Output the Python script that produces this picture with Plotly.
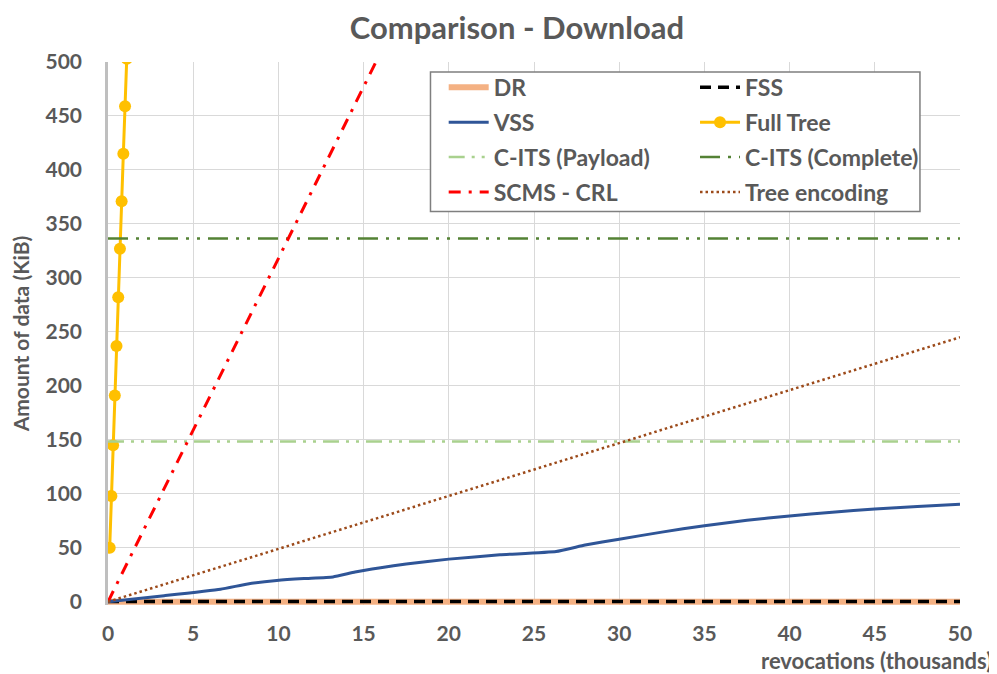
import plotly.graph_objects as go

# ---- data ----
x_span = [0, 50]
dr_y = [0, 0]
fss_y = [0.3, 0.3]

vss_x = [0, 3.3, 6.6, 8.2, 9.9, 11.5, 13.2, 14.5, 16, 17.5, 20, 23, 26.3, 28, 30, 32.5, 35, 37.5, 40, 42.5, 45, 47.5, 50]
vss_y = [0, 5.6, 11.6, 16.5, 19.7, 21.5, 23, 27.5, 31.5, 35, 39.5, 43.5, 46.5, 52.5, 58, 64.5, 70.5, 75.5, 79.5, 83, 86, 88.2, 90.3]

full_x = [0.1, 0.2, 0.3, 0.4, 0.5, 0.6, 0.7, 0.8, 0.9, 1.0, 1.1]
full_y = [50, 98, 145, 191, 237, 282, 327, 371, 415, 459, 503]

cits_payload_y = [148.5, 148.5]
cits_complete_y = [336.5, 336.5]

scms_x = [0, 5, 10, 15, 20]
scms_y = [0, 159, 318, 477, 636]

tree_x = [0, 5, 10, 15, 20, 25, 30, 35, 40, 45, 50]
tree_y = [0, 24.5, 49, 73.5, 98, 122.5, 147, 171.5, 196, 220.5, 245]

x_ticks = [0, 5, 10, 15, 20, 25, 30, 35, 40, 45, 50]
y_ticks = [0, 50, 100, 150, 200, 250, 300, 350, 400, 450, 500]

FONT = "Lato"
GRAY = "#595959"


def lname(s):
    return f"<b>{s}</b>"


fig = go.Figure()
fig.add_trace(go.Scatter(x=x_span, y=dr_y, mode="lines", name=lname("DR"),
                         legend="legend", legendgroup="g1",
                         line=dict(color="#F4B183", width=6)))
fig.add_trace(go.Scatter(x=x_span, y=fss_y, mode="lines", name=lname("FSS"),
                         legend="legend2", legendgroup="g2",
                         line=dict(color="#000000", width=3.5, dash="11px,7px")))
fig.add_trace(go.Scatter(x=vss_x, y=vss_y, mode="lines", name=lname("VSS"),
                         legend="legend", legendgroup="g3",
                         line=dict(color="#2F5597", width=3, shape="spline", smoothing=0.4)))
fig.add_trace(go.Scatter(x=full_x, y=full_y, mode="lines+markers", name=lname("Full Tree"),
                         legend="legend2", legendgroup="g4",
                         line=dict(color="#FFC000", width=3),
                         marker=dict(color="#FFC000", size=12)))
fig.add_trace(go.Scatter(x=x_span, y=cits_payload_y, mode="lines", name=lname("C-ITS (Payload)"),
                         legend="legend", legendgroup="g5",
                         line=dict(color="#A9D18E", width=2.5, dash="16px,7px,3px,7px,3px,7px")))
fig.add_trace(go.Scatter(x=x_span, y=cits_complete_y, mode="lines", name=lname("C-ITS (Complete)"),
                         legend="legend2", legendgroup="g6",
                         line=dict(color="#548235", width=2.5, dash="20px,8px,3px,8px,3px,8px")))
fig.add_trace(go.Scatter(x=scms_x, y=scms_y, mode="lines", name=lname("SCMS - CRL"),
                         legend="legend", legendgroup="g7",
                         line=dict(color="#FF0000", width=3, dash="12px,8px,3px,8px")))
fig.add_trace(go.Scatter(x=tree_x, y=tree_y, mode="lines", name=lname("Tree encoding"),
                         legend="legend2", legendgroup="g8",
                         line=dict(color="#9C4A1A", width=2.5, dash="2.5px,3px")))

legend_common = dict(orientation="v", yanchor="top", xanchor="left",
                     bgcolor="rgba(0,0,0,0)", borderwidth=0,
                     font=dict(family=FONT, size=23, color=GRAY),
                     itemwidth=40, traceorder="grouped", tracegroupgap=2)

fig.update_layout(
    width=989, height=666,
    margin=dict(l=96, r=37, t=54, b=69),
    paper_bgcolor="white", plot_bgcolor="white",
    font=dict(family=FONT, color=GRAY, size=18),
    title=dict(text="<b>Comparison - Download</b>", x=0.48, xref="paper", xanchor="center",
               y=0.969, yref="container", yanchor="middle",
               font=dict(family=FONT, size=31, color=GRAY)),
    legend=dict(x=0.394, y=0.993, **legend_common),
    legend2=dict(x=0.689, y=0.993, **legend_common),
    showlegend=True,
    shapes=[dict(type="rect", xref="paper", yref="paper", x0=0.3785, x1=0.953,
                 y0=0.7245, y1=0.9815, line=dict(color="#7F7F7F", width=1.5),
                 fillcolor="white", layer="above")],
)

fig.update_xaxes(range=[0, 50], tickvals=x_ticks, ticktext=[f"<b>{v}</b>" for v in x_ticks],
                 showgrid=True, gridcolor="#D9D9D9", gridwidth=1.2,
                 showline=False, zeroline=False, ticks="", ticklabelstandoff=14,
                 tickfont=dict(family=FONT, size=21, color=GRAY))
fig.update_yaxes(range=[-3, 500], tickvals=y_ticks, ticktext=[f"<b>{v}</b>" for v in y_ticks],
                 showgrid=True, gridcolor="#D9D9D9", gridwidth=1.2,
                 showline=True, linecolor="#BFBFBF", linewidth=2.5, zeroline=False, ticks="",
                 ticklabelstandoff=19,
                 tickfont=dict(family=FONT, size=21, color=GRAY),
                 title=dict(text="<b>Amount of data (KiB)</b>", standoff=11,
                            font=dict(family=FONT, size=21, color=GRAY)))
fig.add_annotation(text="<b>revocations (thousands)</b>", xref="paper", yref="paper",
                   x=1.0403, y=-0.103, xanchor="right", yanchor="middle", showarrow=False,
                   font=dict(family=FONT, size=22, color=GRAY))

fig.write_html("out.html")
